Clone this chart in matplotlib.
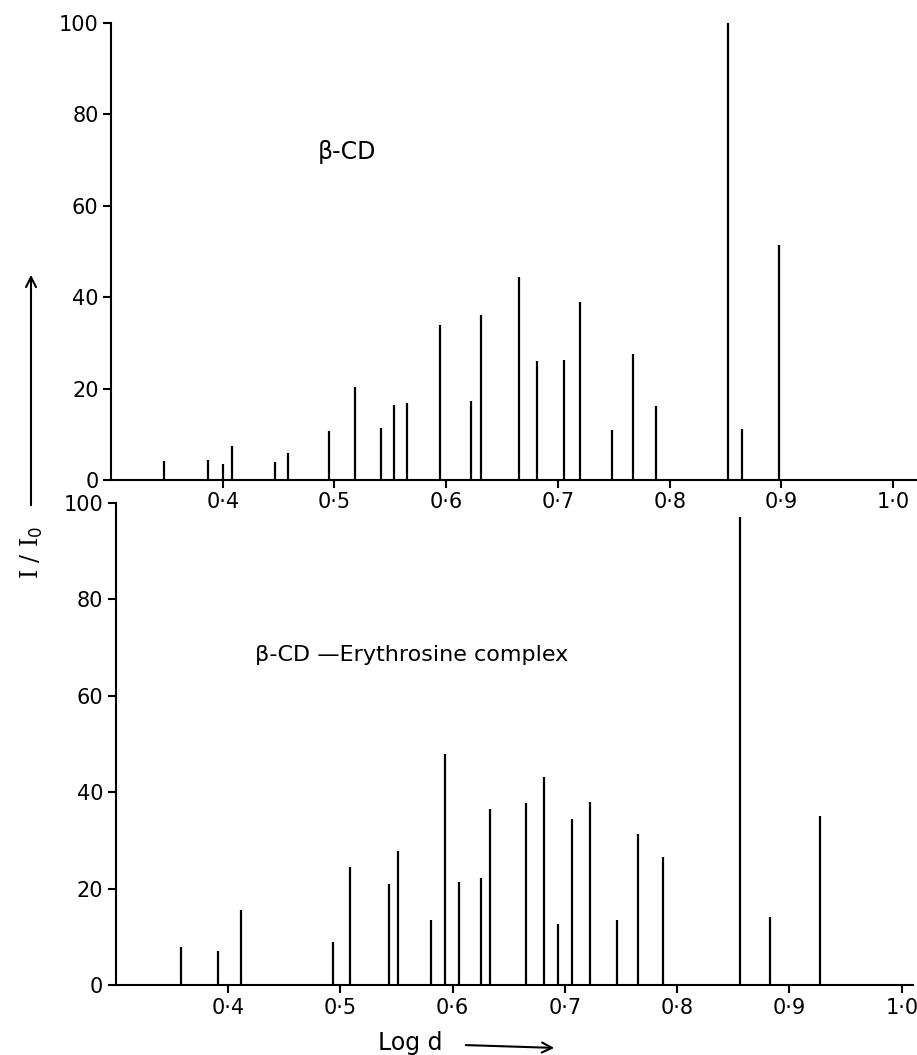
import matplotlib.pyplot as plt
from matplotlib.patches import FancyArrowPatch

# beta-CD powder pattern (log d, relative intensity)
cd_logd = [0.347, 0.387, 0.400, 0.408, 0.447, 0.458, 0.4955, 0.5185, 0.542,
           0.5535, 0.5645, 0.594, 0.622, 0.631, 0.665, 0.681, 0.705, 0.720,
           0.748, 0.767, 0.788, 0.852, 0.865, 0.898]
cd_int = [4.2, 4.4, 3.5, 7.5, 4.0, 5.8, 10.8, 20.3, 11.3,
          16.4, 16.8, 34, 17.2, 36, 44.5, 26.1, 26.2, 39,
          11, 27.6, 16.3, 100, 11.2, 51.5]

# beta-CD / erythrosine complex
cx_logd = [0.358, 0.391, 0.412, 0.4934, 0.509, 0.543, 0.5515, 0.581, 0.593,
           0.606, 0.625, 0.6335, 0.665, 0.681, 0.6935, 0.706, 0.722, 0.746,
           0.765, 0.787, 0.8555, 0.883, 0.927]
cx_int = [7.8, 7.0, 15.6, 8.9, 24.4, 21, 27.8, 13.4, 48,
          21.4, 22.3, 36.5, 37.7, 43.1, 12.7, 34.4, 38, 13.5,
          31.3, 26.6, 97, 14.2, 35]

xticks = [0.4, 0.5, 0.6, 0.7, 0.8, 0.9, 1.0]
xticklabels = ["0·4", "0·5", "0·6", "0·7", "0·8", "0·9", "1·0"]
yticks = [0, 20, 40, 60, 80, 100]

W, H = 917, 1055
fig = plt.figure(figsize=(W / 100, H / 100), dpi=100)


def px_axes(left, right, top, bottom):
    return fig.add_axes([left / W, 1 - bottom / H, (right - left) / W, (bottom - top) / H])


def style(ax, xmax):
    ax.set_xlim(0.3, xmax)
    ax.set_ylim(0, 100)
    ax.patch.set_visible(False)
    for s in ["top", "right"]:
        ax.spines[s].set_visible(False)
    for s in ["left", "bottom"]:
        ax.spines[s].set_linewidth(1.5)
    ax.set_xticks(xticks)
    ax.set_xticklabels(xticklabels)
    ax.set_yticks(yticks)
    ax.tick_params(direction="out", length=6, width=1.5, labelsize=15, pad=3)


ax1 = px_axes(111, 915.5, 23, 480)
ax1.vlines(cd_logd, 0, cd_int, color="black", lw=1.6, clip_on=False)
style(ax1, 1.02)

ax2 = px_axes(115.7, 913, 503, 985)
ax2.vlines(cx_logd, 0, cx_int, color="black", lw=1.6, clip_on=False)
style(ax2, 1.01)

fig.text(318 / W, 1 - 152 / H, "β-CD", fontsize=17, va="center", ha="left")
fig.text(255 / W, 1 - 655 / H, "β-CD —Erythrosine complex", fontsize=16, va="center", ha="left")

# axis labels with arrows
fig.text(410 / W, 1 - 1043 / H, "Log d", fontsize=17, va="center", ha="center")
fig.add_artist(FancyArrowPatch(
    (463 / W, 1 - 1045 / H), (557 / W, 1 - 1048 / H), transform=fig.transFigure,
    arrowstyle="->", mutation_scale=18, lw=1.5, color="black"))

fig.text(32 / W, 1 - 552 / H, r"I / I$_0$", fontsize=17, family="DejaVu Serif",
         rotation=90, va="center", ha="center")
fig.add_artist(FancyArrowPatch(
    (31 / W, 1 - 508 / H), (31 / W, 1 - 272 / H), transform=fig.transFigure,
    arrowstyle="->", mutation_scale=18, lw=1.5, color="black"))

fig.savefig("out.png", dpi=100)
